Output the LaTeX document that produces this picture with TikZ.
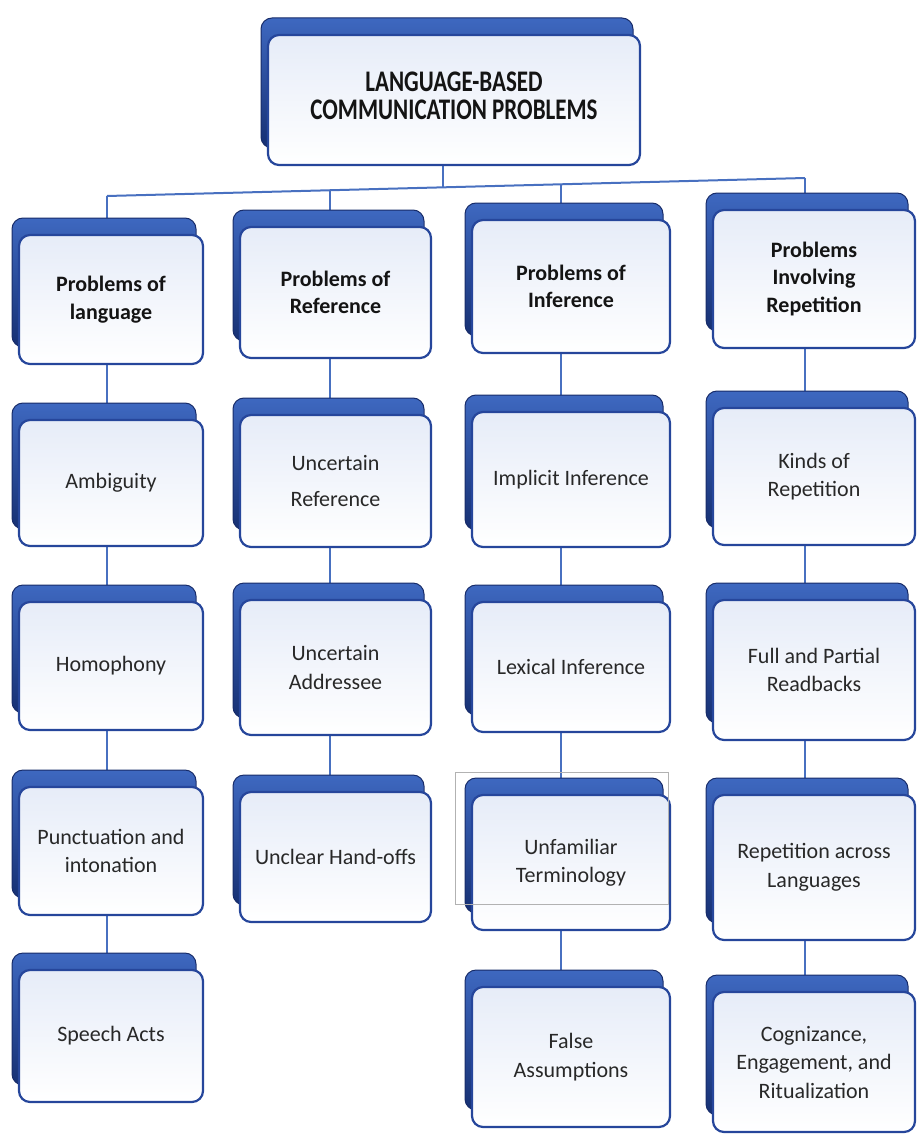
\documentclass[tikz,border=0pt]{standalone}
\usepackage{fontspec}
\setmainfont{Carlito}
\usetikzlibrary{shadows}
\pgfdeclarelayer{background}
\pgfsetlayers{background,main}
\definecolor{conncol}{RGB}{72,112,192}
\definecolor{backhi}{RGB}{62,104,192}
\definecolor{backlo}{RGB}{22,48,115}
\definecolor{backedge}{RGB}{24,44,105}
\definecolor{frontedge}{RGB}{38,70,155}
\definecolor{fronttop}{RGB}{230,236,248}
\definecolor{txt}{RGB}{40,40,40}
\definecolor{headtxt}{RGB}{20,20,20}
\tikzset{
  box/.style={rounded corners=11pt, draw=frontedge, line width=2.2pt,
    top color=fronttop, bottom color=white, align=center, inner sep=4pt,
    general shadow={shadow xshift=-7pt, shadow yshift=17pt,
      top color=backhi, bottom color=backlo, draw=backedge, line width=1pt}},
  headbox/.style={box, text=headtxt, font=\fontsize{22}{27.5}\selectfont\bfseries},
  itembox/.style={box, text=txt, font=\fontsize{22}{28.5}\selectfont},
  sz/.style 2 args={minimum width=#1pt, minimum height=#2pt},
  conn/.style={draw=conncol, line width=2pt},
}
\begin{document}
\begin{tikzpicture}[x=1pt,y=-1pt]
\useasboundingbox (0,0) rectangle (918,1137);
% bus coordinates
\coordinate (b1) at (107,196);
\coordinate (b2) at (330,190.2);
\coordinate (b0) at (443,187.3);
\coordinate (b3) at (561,184.3);
\coordinate (b4) at (805,178);
% root
\node[headbox, sz={372}{130}, font=\fontsize{23}{21}\selectfont\bfseries] (root) at (454,100)
  {\scalebox{1}[1.3]{\begin{tabular}{@{}c@{}}LANGUAGE-BASED\\COMMUNICATION PROBLEMS\end{tabular}}};
% column 1
\node[headbox, sz={184}{129}] (h1) at (111,299.5) {Problems of\\language};
\node[itembox, sz={184}{126}] (a1) at (111,483) {Ambiguity};
\node[itembox, sz={184}{128}] (a2) at (111,666) {Homophony};
\node[itembox, sz={184}{128}] (a3) at (111,851) {Punctuation and\\intonation};
\node[itembox, sz={184}{132}] (a4) at (111,1036) {Speech Acts};
% column 2
\node[headbox, sz={191}{131}] (h2) at (335.5,292.5) {Problems of\\Reference};
\node[itembox, sz={191}{132}] (c21) at (335.5,481) {Uncertain\\[8pt]Reference};
\node[itembox, sz={191}{135}] (c22) at (335.5,667.5) {Uncertain\\Addressee};
\node[itembox, sz={191}{130}] (c23) at (335.5,857) {Unclear Hand-offs};
% column 3
\node[headbox, sz={198}{133}] (h3) at (571,286.5) {Problems of\\Inference};
\node[itembox, sz={198}{135}] (c31) at (571,479.5) {Implicit Inference};
\node[itembox, sz={198}{130}] (c32) at (571,667) {Lexical Inference};
\node[itembox, sz={198}{135}] (c33) at (571,862.5) {Unfamiliar\\Terminology};
\node[itembox, sz={198}{140}] (c34) at (571,1057) {False\\Assumptions};
% column 4
\node[headbox, sz={202}{138}] (h4) at (814,279) {Problems\\Involving\\Repetition};
\node[itembox, sz={202}{137}] (c41) at (814,476.5) {Kinds of\\Repetition};
\node[itembox, sz={202}{140}] (c42) at (814,670) {Full and Partial\\Readbacks};
\node[itembox, sz={202}{145}] (c43) at (814,867.5) {Repetition across\\Languages};
\node[itembox, sz={202}{140}] (c44) at (814,1062) {Cognizance,\\Engagement, and\\Ritualization};
% thin selection frame
\draw[gray!60, line width=0.7pt] (455,772) rectangle (668,904);
% connectors
\begin{pgfonlayer}{background}
\draw[conn] (b1) -- (b4);
\draw[conn] (root.south -| b0) -- (b0);
\draw[conn] (b1) -- (b1 |- a4.center);
\draw[conn] (b2) -- (b2 |- c23.center);
\draw[conn] (b3) -- (b3 |- c34.center);
\draw[conn] (b4) -- (b4 |- c44.center);
\end{pgfonlayer}
\end{tikzpicture}
\end{document}
